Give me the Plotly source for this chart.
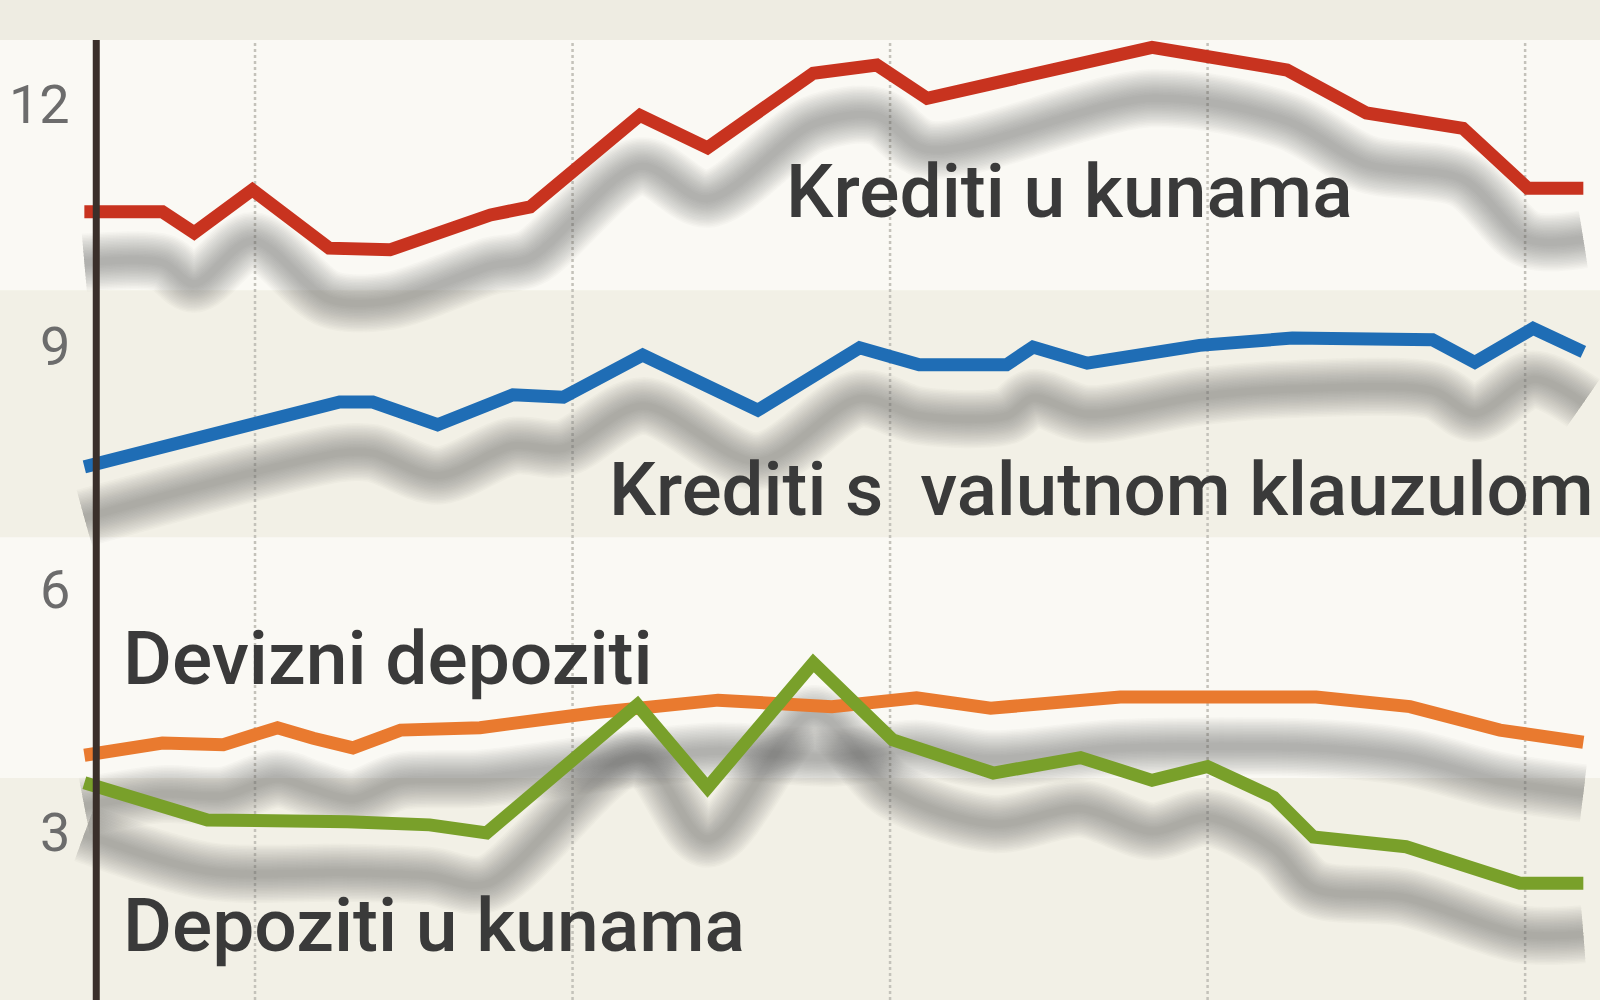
import plotly.graph_objects as go

red_x = [-0.45, 2.5, 3.7, 5.9, 8.8, 11.1, 14.9, 16.4, 20.55, 23.1, 27.1, 29.5, 31.4, 39.9, 45.0, 48.0, 51.65, 54.1, 56.2]
red_y = [10.67, 10.67, 10.41, 10.94, 10.22, 10.20, 10.63, 10.73, 11.86, 11.46, 12.38, 12.48, 12.07, 12.70, 12.42, 11.89, 11.70, 10.96, 10.96]

blue_x = [-0.45, 9.2, 10.45, 12.9, 15.75, 17.65, 20.65, 25.0, 28.85, 31.1, 34.4, 35.4, 37.45, 41.7, 45.2, 50.5, 52.1, 54.3, 56.2]
blue_y = [7.52, 8.32, 8.32, 8.04, 8.41, 8.38, 8.90, 8.22, 8.99, 8.78, 8.78, 9.00, 8.80, 9.02, 9.11, 9.09, 8.81, 9.23, 8.94]

orange_x = [-0.45, 2.5, 4.8, 6.85, 8.2, 9.7, 11.5, 14.5, 19.0, 23.5, 27.8, 31.0, 33.8, 38.7, 46.1, 49.65, 53.05, 56.2]
orange_y = [3.96, 4.11, 4.09, 4.30, 4.17, 4.05, 4.27, 4.30, 4.49, 4.64, 4.56, 4.67, 4.54, 4.68, 4.68, 4.56, 4.27, 4.12]

green_x = [-0.45, 4.2, 9.5, 12.6, 14.75, 20.45, 23.1, 27.1, 30.1, 33.9, 37.2, 39.9, 42.0, 44.5, 46.0, 49.5, 53.8, 56.2]
green_y = [3.62, 3.16, 3.14, 3.10, 3.00, 4.58, 3.56, 5.10, 4.15, 3.74, 3.93, 3.65, 3.82, 3.44, 2.95, 2.83, 2.38, 2.38]

series_names = ["Krediti u kunama", "Krediti s\u00a0 valutnom klauzulom", "Devizni depoziti", "Depoziti u kunama"]
y_ticks = [3, 6, 9, 12]
y_tick_labels = ["3", "6", "9", "12"]
year_marks = [6, 18, 30, 42, 54]   # dotted vertical lines (year boundaries)

# ---- styling ----
X_RANGE = [-3.638, 56.83]
Y_RANGE = [0.938, 13.284]
PLOT_TOP = 12.79
LIGHT = "#faf9f4"
DARK = "#f2f0e6"
STRIP = "#eeece2"
SHADOW_DROP = 0.63
colors = ["#c8331f", "#1f6db5", "#e97a2f", "#79a02a"]
label_pos = [(26.0, 10.93), (19.3, 7.24), (0.95, 5.16), (0.95, 1.87)]
label_size = [75, 74.5, 75, 75]

series = [(red_x, red_y), (blue_x, blue_y), (orange_x, orange_y), (green_x, green_y)]

fig = go.Figure()

# soft drop shadows (stacked translucent strokes approximate a blur)
shadow_widths = list(range(58, 6, -3))
for xs, ys in series:
    sy = [v - SHADOW_DROP for v in ys]
    for w in shadow_widths:
        fig.add_trace(go.Scatter(
            x=xs, y=sy, mode="lines",
            line=dict(color="rgba(92,92,92,0.03)", width=w, shape="spline", smoothing=0.9),
            hoverinfo="skip", showlegend=False))

# coloured lines
for (xs, ys), c, name in zip(series, colors, series_names):
    fig.add_trace(go.Scatter(x=xs, y=ys, mode="lines", name=name,
                             line=dict(color=c, width=13), showlegend=False))

shapes = [
    dict(type="rect", xref="paper", yref="y", x0=0, x1=1, y0=6.65, y1=9.7,
         fillcolor=DARK, line_width=0, layer="below"),
    dict(type="rect", xref="paper", yref="y", x0=0, x1=1, y0=Y_RANGE[0], y1=3.68,
         fillcolor=DARK, line_width=0, layer="below"),
]
for gx in year_marks:
    shapes.append(dict(type="line", xref="x", yref="y", x0=gx, x1=gx, y0=Y_RANGE[0], y1=PLOT_TOP,
                       line=dict(color="#c4c2ba", width=2.5, dash="dot"), layer="below"))
shapes.append(dict(type="rect", xref="paper", yref="y", x0=0, x1=1, y0=PLOT_TOP, y1=Y_RANGE[1],
                   fillcolor=STRIP, line_width=0, layer="above"))
shapes.append(dict(type="line", xref="x", yref="y", x0=0, x1=0, y0=Y_RANGE[0], y1=PLOT_TOP,
                   line=dict(color="#3a2f2a", width=7), layer="above"))

annotations = []
for name, (lx, ly), fs in zip(series_names, label_pos, label_size):
    annotations.append(dict(x=lx, y=ly, xref="x", yref="y", text=name, showarrow=False,
                            xanchor="left", yanchor="middle",
                            font=dict(family="Roboto, Liberation Sans, sans-serif", size=fs,
                                      color="#3a3a3a", weight=500)))
for v, t in zip(y_ticks, y_tick_labels):
    annotations.append(dict(x=72 / 1600, y=v, xref="paper", yref="y", text=t, showarrow=False,
                            xanchor="right", yanchor="middle",
                            font=dict(family="Roboto, sans-serif", size=54, color="#6c6c6c")))

fig.update_layout(
    width=1600, height=1000,
    margin=dict(l=0, r=0, t=0, b=0),
    paper_bgcolor=LIGHT, plot_bgcolor=LIGHT,
    xaxis=dict(range=X_RANGE, visible=False, fixedrange=True),
    yaxis=dict(range=Y_RANGE, visible=False, fixedrange=True),
    shapes=shapes, annotations=annotations, showlegend=False,
)

fig.write_html("out.html", config={"displayModeBar": False},
               post_script="document.body.style.margin='0px';document.body.style.background='#faf9f4';")
